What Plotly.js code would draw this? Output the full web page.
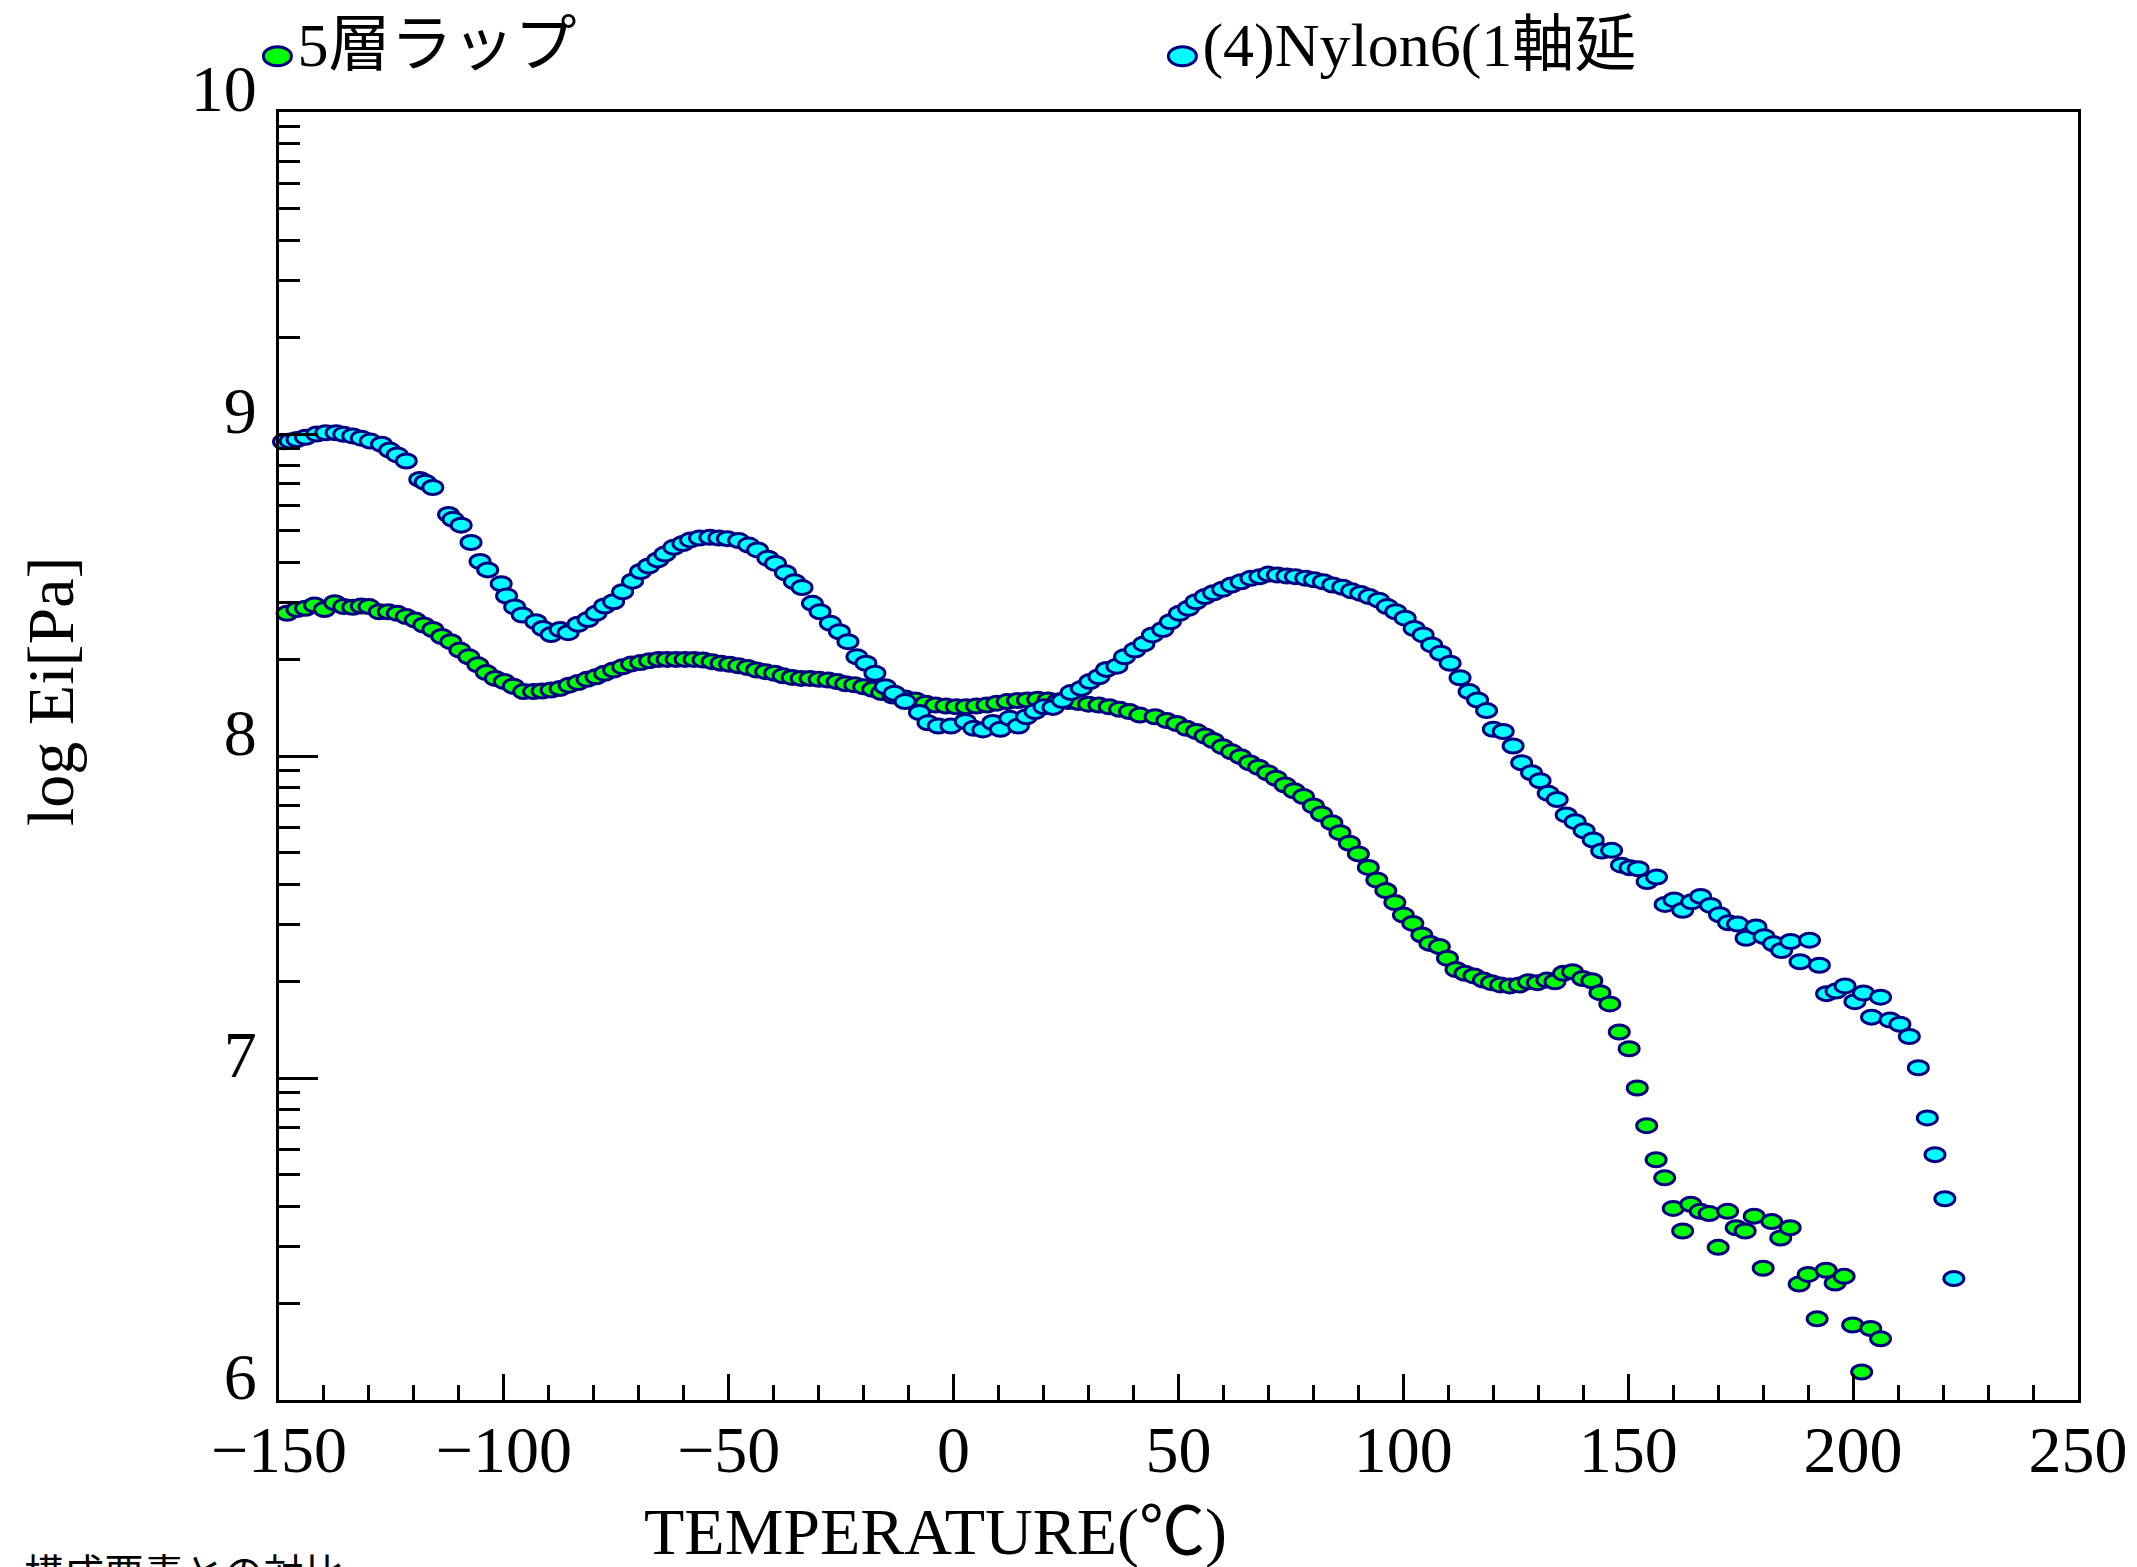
<!DOCTYPE html>
<html>
<head>
<meta charset="utf-8">
<script src="https://cdn.plot.ly/plotly-3.0.1.min.js"></script>
<style>
html,body{margin:0;padding:0;background:#fff;}
#chart{width:2137px;height:1567px;}
</style>
</head>
<body>
<div id="chart"></div>
<script>
// ---- data ----
const seriesNames = ["5層ラップ", "(4)Nylon6(1軸延"];

const tempWrap = [
-148.2,-146.0,-144.1,-142.1,-139.9,-137.6,-135.6,-133.6,-131.7,-130.0,-127.7,-125.7,-123.7,-121.7,-119.7,-117.8,-115.8,-113.8,-111.8,-109.8,-107.8,-105.8,-103.9,-101.9,-99.9,-97.9,-95.6,-93.4,-91.5,-89.5,-87.5,-85.5,-83.5,-81.5,-79.5,-77.6,-75.6,-73.6,-71.6,-69.6,-67.6,-65.6,-63.7,-61.7,-59.7,-57.7,-55.7,-53.7,-51.7,-49.8,-47.8,-45.8,-43.8,-41.8,-39.8,-37.9,-35.9,-33.9,-31.9,-29.9,-27.9,-25.9,-24.0,-22.0,-20.0,-18.0,-16.0,-13.5,
-10.8,-8.5,-6.2,-4.0,-1.7,0.6,2.8,5.1,7.4,9.6,11.9,14.2,16.4,18.7,21.0,23.2,25.5,27.8,30.0,32.3,34.6,36.9,39.1,41.4,
44.8,47.4,49.6,51.8,54.0,55.9,57.7,59.8,61.8,63.8,65.8,67.8,69.8,71.7,73.7,75.7,77.8,80.0,81.8,84.1,85.9,88.0,90.0,92.2,94.1,96.1,98.1,100.0,102.1,104.1,105.9,108.0,109.8,111.7,113.7,115.7,117.8,119.6,121.6,123.7,125.8,127.8,129.8,131.9,133.7,135.6,137.6,139.9,141.9,143.7,145.9,
148.0,150.2,152.0,154.1,156.2,158.1,160.0,162.1,163.9,166.0,168.0,170.0,172.1,174.0,176.0,178.0,180.0,181.9,183.9,186.0,188.0,190.0,192.0,194.0,196.0,198.0,199.9,201.9,203.9,206.1
];
const logEWrap = [
8.443,8.455,8.459,8.469,8.455,8.476,8.464,8.462,8.466,8.464,8.448,8.448,8.443,8.433,8.422,8.407,8.393,8.371,8.355,8.329,8.308,8.283,8.259,8.241,8.231,8.217,8.200,8.200,8.202,8.205,8.210,8.220,8.228,8.238,8.246,8.257,8.267,8.277,8.286,8.290,8.296,8.300,8.300,8.300,8.300,8.300,8.298,8.293,8.288,8.285,8.280,8.275,8.267,8.262,8.257,8.249,8.244,8.241,8.241,8.238,8.236,8.231,8.224,8.221,8.215,8.207,8.197,8.186,
8.180,8.174,8.164,8.158,8.155,8.153,8.153,8.155,8.158,8.164,8.169,8.172,8.174,8.176,8.174,8.171,8.169,8.166,8.161,8.158,8.153,8.145,8.138,8.127,
8.122,8.110,8.101,8.086,8.076,8.062,8.048,8.029,8.013,7.998,7.979,7.965,7.948,7.931,7.910,7.892,7.874,7.845,7.820,7.793,7.762,7.729,7.696,7.654,7.615,7.582,7.545,7.506,7.480,7.444,7.418,7.408,7.372,7.337,7.325,7.317,7.304,7.296,7.289,7.286,7.289,7.299,7.296,7.304,7.299,7.325,7.330,7.309,7.302,7.265,7.230,
7.143,7.091,6.969,6.852,6.746,6.690,6.595,6.525,6.608,6.586,6.579,6.474,6.586,6.535,6.525,6.571,6.409,6.554,6.503,6.535,6.360,6.390,6.252,6.403,6.363,6.384,6.233,6.087,6.222,6.190
];

const tempNylon = [
-149.0,-147.5,-146.0,-144.1,-141.6,-139.6,-137.3,-135.6,-133.6,-131.7,-129.7,-127.2,-125.4,-123.7,-121.7,-118.7,-117.5,-115.8,-112.3,-111.3,-109.5,-107.3,-105.3,-103.6,-100.6,-99.4,-97.6,-95.9,-92.9,-91.3,-89.5,-87.5,-85.7,-83.5,-81.3,-79.5,-77.6,-75.6,-73.6,-71.4,-69.6,-67.8,-65.8,-64.2,-62.2,-60.2,-58.5,-56.5,-54.2,-52.2,-50.3,-47.8,-45.6,-43.6,-41.3,-39.6,-37.4,-35.4,-33.7,-31.4,-29.7,-27.4,-25.4,-23.5,-21.5,-19.5,-17.5,-15.2,-13.2,
-10.8,-7.6,-5.7,-3.4,-0.6,2.6,4.5,6.5,8.7,10.4,12.5,14.4,16.2,18.1,20.1,22.1,24.2,26.1,28.4,30.3,32.3,34.0,36.3,38.0,40.3,42.3,44.2,46.5,48.2,50.2,52.2,53.9,55.9,57.8,59.8,61.8,63.9,66.1,68.1,70.0,72.0,74.1,76.0,78.3,80.2,82.2,84.3,86.5,88.5,90.5,92.4,94.5,96.4,98.3,100.4,102.4,104.4,106.3,108.3,110.4,112.6,
114.6,116.5,118.5,120.0,122.2,124.4,126.3,128.5,130.4,132.2,134.2,136.2,138.2,140.2,142.2,
144.1,146.3,148.5,150.4,152.2,154.2,156.3,158.2,160.2,162.1,164.1,166.1,168.3,170.3,172.3,174.3,176.2,178.4,180.2,182.3,184.1,186.1,188.2,190.3,192.5,194.1,196.2,198.2,200.4,202.3,204.1,206.1,208.2,210.4,212.5,214.5,216.5,218.2,220.4,222.4
];
const logENylon = [
8.976,8.978,8.983,8.990,9.000,9.004,9.004,8.999,8.994,8.987,8.978,8.968,8.950,8.935,8.916,8.859,8.850,8.834,8.750,8.735,8.717,8.663,8.604,8.578,8.535,8.497,8.463,8.438,8.417,8.396,8.377,8.393,8.383,8.409,8.424,8.443,8.466,8.479,8.510,8.543,8.573,8.590,8.609,8.627,8.648,8.660,8.671,8.677,8.679,8.677,8.675,8.669,8.655,8.640,8.614,8.598,8.569,8.541,8.523,8.474,8.448,8.412,8.386,8.355,8.308,8.288,8.257,8.215,8.195,
8.169,8.135,8.103,8.093,8.093,8.107,8.086,8.081,8.104,8.083,8.117,8.093,8.122,8.138,8.153,8.151,8.172,8.197,8.210,8.231,8.246,8.269,8.279,8.308,8.329,8.348,8.376,8.393,8.417,8.443,8.459,8.479,8.495,8.507,8.518,8.531,8.541,8.552,8.557,8.565,8.562,8.559,8.557,8.552,8.547,8.541,8.531,8.524,8.513,8.505,8.495,8.484,8.464,8.448,8.428,8.396,8.376,8.345,8.319,8.288,8.243,
8.200,8.174,8.141,8.083,8.076,8.031,7.979,7.948,7.923,7.884,7.865,7.817,7.796,7.768,7.739,
7.705,7.707,7.661,7.653,7.650,7.610,7.624,7.539,7.553,7.521,7.547,7.564,7.536,7.507,7.482,7.478,7.434,7.469,7.439,7.417,7.396,7.424,7.361,7.428,7.350,7.262,7.270,7.286,7.237,7.264,7.189,7.251,7.180,7.167,7.129,7.032,6.876,6.762,6.625,6.377
];

const xTickVals = [-150,-100,-50,0,50,100,150,200,250];
const yTickVals = [6,7,8,9,10];
const xTitle = "TEMPERATURE(℃)";
const yTitle = "log Ei[Pa]";
const footNote = "構成要素との対比";

// ---- styling ----
const FONT = "'Liberation Serif', 'Noto Sans CJK JP', serif";
const outline = "#000080";
const yMinor = [];
for (let d = 6; d < 10; d++) for (let k = 2; k <= 9; k++) yMinor.push(d + Math.log10(k));

const data = [
  {type:'scatter', mode:'markers', name: seriesNames[0], x: tempWrap, y: logEWrap,
   marker:{symbol:'circle', size:18, color:'#00ff00', line:{color:outline, width:3}}, cliponaxis:false},
  {type:'scatter', mode:'markers', name: seriesNames[1], x: tempNylon, y: logENylon,
   marker:{symbol:'circle', size:18, color:'#00ffff', line:{color:outline, width:3}}, cliponaxis:false}
];

const layout = {
  width:2137, height:1567,
  margin:{l:279, r:59, t:112, b:167, autoexpand:false},
  paper_bgcolor:'#ffffff', plot_bgcolor:'#ffffff',
  font:{family:FONT, color:'#000000', size:66},
  showlegend:true,
  legend:{orientation:'h', x:-0.012, xanchor:'left', y:1.054, yanchor:'middle',
          font:{family:FONT, size:62, color:'#000'}, entrywidth:860, entrywidthmode:'pixels',
          bgcolor:'rgba(0,0,0,0)', borderwidth:0, itemsizing:'trace'},
  xaxis:{range:[-150,250], tickmode:'array', tickvals:xTickVals, ticks:'inside', ticklen:26, tickwidth:3,
         tickcolor:'#000', showline:true, linewidth:3, linecolor:'#000', mirror:true,
         showgrid:false, zeroline:false, tickfont:{family:FONT, size:66}, ticklabelstandoff:-10,
         minor:{dtick:10, tick0:-150, ticks:'inside', ticklen:15, tickwidth:3, tickcolor:'#000', showgrid:false}},
  yaxis:{range:[6,10], tickmode:'array', tickvals:yTickVals, ticks:'inside', ticklen:39, tickwidth:3,
         tickcolor:'#000', showline:true, linewidth:3, linecolor:'#000', mirror:true,
         showgrid:false, zeroline:false, tickfont:{family:FONT, size:66},
         ticklabelshift:-24, ticklabelstandoff:6,
         minor:{tickmode:'array', tickvals:yMinor, ticks:'inside', ticklen:21, tickwidth:3, tickcolor:'#000', showgrid:false}},
  annotations:[
    {text:xTitle, xref:'paper', yref:'paper', x:(935-279)/1799, y:(1400-1532)/1288,
     xanchor:'center', yanchor:'middle', showarrow:false, font:{family:FONT, size:66, color:'#000'}},
    {text:yTitle, xref:'paper', yref:'paper', x:(50-279)/1799, y:(1400-692)/1288, textangle:-90,
     xanchor:'center', yanchor:'middle', showarrow:false, font:{family:FONT, size:66, color:'#000'}},
    {text:footNote, xref:'paper', yref:'paper', x:(22-279)/1799, y:(1400-1550)/1288,
     xanchor:'left', yanchor:'top', showarrow:false, font:{family:FONT, size:40, color:'#000'}}
  ]
};

function ell(rx, ry, dy){
  dy = dy || 0;
  return 'M'+rx+','+dy+'A'+rx+','+ry+' 0 1,1 0,'+(dy-ry)+'A'+rx+','+ry+' 0 0,1 '+rx+','+dy+'Z';
}

const gd = document.getElementById('chart');
Plotly.newPlot(gd, data, layout, {staticPlot:true, displayModeBar:false}).then(function(){
  gd.querySelectorAll('.scatterlayer path.point').forEach(function(p){ p.setAttribute('d', ell(10,7)); });
  gd.querySelectorAll('.legend .legendpoints path.scatterpts').forEach(function(p){ p.setAttribute('d', ell(14,9.5,14)); });
});
</script>
</body>
</html>
